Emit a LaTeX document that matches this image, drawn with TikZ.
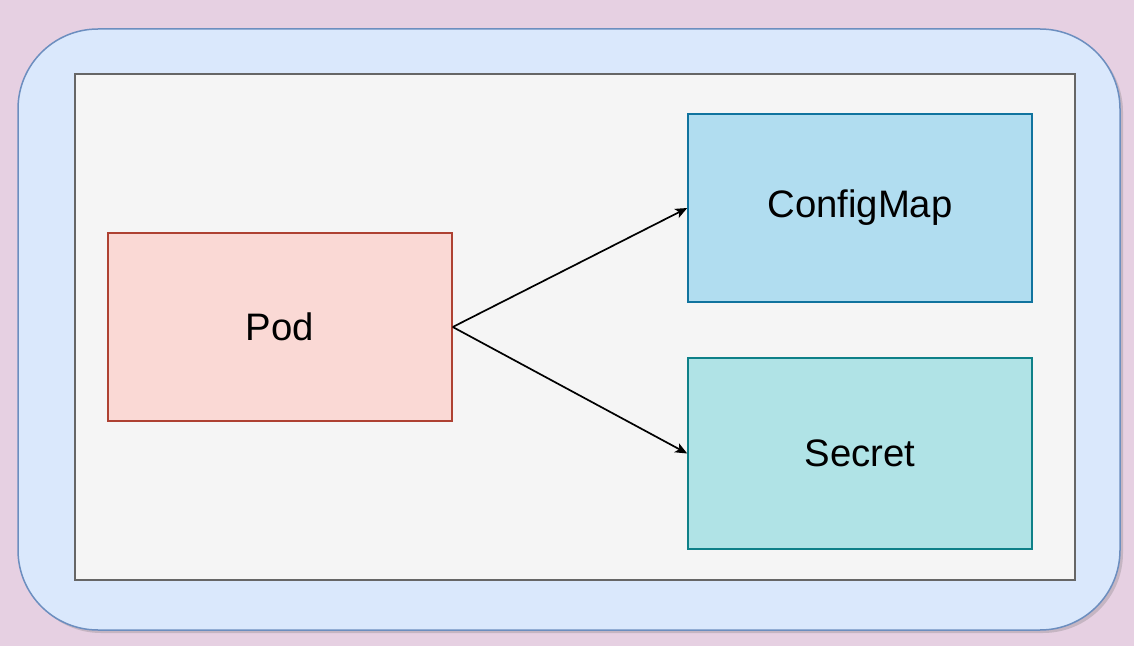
\documentclass[tikz,border=0pt]{standalone}
\usepackage{fontspec}
\setmainfont{Liberation Sans}
\usetikzlibrary{arrows.meta,shadows}
\definecolor{bgpink}{HTML}{E6D0E2}
\definecolor{outerfill}{HTML}{DAE8FC}
\definecolor{outerdraw}{HTML}{6C8EBF}
\definecolor{innerfill}{HTML}{F5F5F5}
\definecolor{innerdraw}{HTML}{666666}
\definecolor{podfill}{HTML}{FAD9D5}
\definecolor{poddraw}{HTML}{AE4132}
\definecolor{cmfill}{HTML}{B1DDF0}
\definecolor{cmdraw}{HTML}{10739E}
\definecolor{secfill}{HTML}{B0E3E6}
\definecolor{secdraw}{HTML}{0E8088}
\tikzset{
  box/.style={rectangle, line width=1.5pt, minimum width=344pt, minimum height=188pt, inner sep=0pt, font=\fontsize{38.3}{44}\selectfont},
  conn/.style={line width=1.7pt, -{Stealth[length=12pt,width=10pt,inset=3pt]}}
}
\begin{document}
\begin{tikzpicture}[x=1pt,y=1pt]
\fill[bgpink] (0,0) rectangle (1134,646);
\useasboundingbox (0,0) rectangle (1134,646);
\node[draw=outerdraw, fill=outerfill, line width=1.5pt, rounded corners=80pt, minimum width=1102pt, minimum height=601pt, inner sep=0pt,
  drop shadow={shadow xshift=3pt, shadow yshift=-3pt, opacity=0.25, fill=black!60}] (outer) at (569,316.5) {};
\node[draw=innerdraw, fill=innerfill, line width=1.5pt, minimum width=1000pt, minimum height=506pt, inner sep=0pt] (inner) at (575,319) {};
\node[box, draw=poddraw, fill=podfill, minimum height=188pt] (pod) at (280,319) {\raisebox{-2pt}{Pod}};
\node[box, draw=cmdraw, fill=cmfill, minimum height=188pt] (cm) at (860,438) {\raisebox{-2pt}{ConfigMap}};
\node[box, draw=secdraw, fill=secfill, minimum height=191pt] (sec) at (860,192.5) {\raisebox{-2pt}{Secret}};
\draw[conn] (pod.east) -- (cm.west);
\draw[conn] (pod.east) -- (sec.west);
\end{tikzpicture}
\end{document}
